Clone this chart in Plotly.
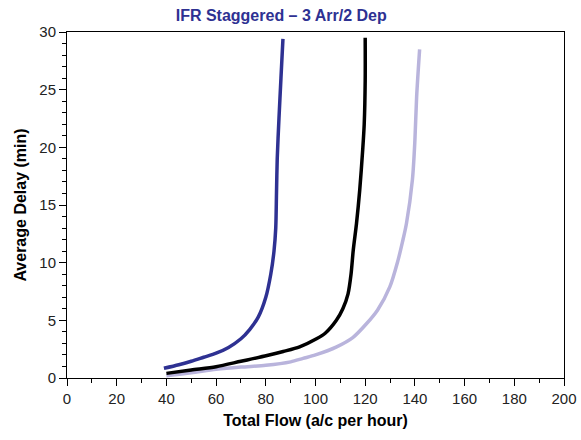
import plotly.graph_objects as go

# Data
blue_x = [39, 45, 50, 55, 60, 65, 70, 73.5, 77, 80, 82, 83.3, 84.0, 84.3, 84.6, 85.3, 86.1, 86.9]
blue_y = [0.84, 1.15, 1.45, 1.8, 2.15, 2.65, 3.4, 4.2, 5.3, 7.0, 9.0, 11.0, 13.0, 16.0, 19.0, 22.5, 26.0, 29.4]

black_x = [40, 50, 60, 70, 80.5, 87, 93.6, 100.4, 104, 108.4, 111, 113.1, 114.3, 115.2, 116.5, 117.8, 119.0, 119.6, 120.0, 120.0]
black_y = [0.4, 0.7, 0.98, 1.45, 1.95, 2.3, 2.7, 3.4, 3.9, 5.0, 6.0, 7.3, 9.0, 11.1, 13.4, 16.3, 19.8, 22.0, 25.8, 29.5]

lav_x = [40, 50, 60, 70, 80, 90, 95, 100, 108.5, 115, 120.5, 125, 129.9, 133.2, 135, 136.6, 139.0, 140.0, 140.7, 141.9]
lav_y = [0.2, 0.45, 0.75, 0.95, 1.1, 1.4, 1.7, 2.0, 2.7, 3.5, 4.7, 5.9, 7.9, 10.2, 11.8, 13.4, 17.2, 20.6, 24.4, 28.5]

x_ticks = [0, 20, 40, 60, 80, 100, 120, 140, 160, 180, 200]
y_ticks = [0, 5, 10, 15, 20, 25, 30]

BLUE = "#2e3192"
LAV = "#b9b4dc"
FONT = "Liberation Sans, Arial, sans-serif"

fig = go.Figure()
for xs, ys, c in [(lav_x, lav_y, LAV), (black_x, black_y, "#000000"), (blue_x, blue_y, BLUE)]:
    fig.add_trace(go.Scatter(x=xs, y=ys, mode="lines",
                             line=dict(color=c, width=3.5, shape="spline", smoothing=0.8),
                             showlegend=False, hoverinfo="skip"))

axis_common = dict(showgrid=False, zeroline=False, showline=True, linecolor="black",
                   linewidth=1, mirror=True, ticks="outside", ticklen=7, tickwidth=1,
                   tickcolor="black", tickfont=dict(family=FONT, size=15, color="#222"),
                   automargin=False)

fig.update_xaxes(range=[0, 200], tickvals=x_ticks, ticktext=[str(v) for v in x_ticks],
                 minor=dict(dtick=10, ticks="outside", ticklen=4, tickcolor="black", tickwidth=1),
                 title=dict(text="<b>Total Flow (a/c per hour)</b>", font=dict(family=FONT, size=16, color="black"), standoff=8),
                 **axis_common)
fig.update_yaxes(range=[0, 30], tickvals=y_ticks, ticktext=[str(v) for v in y_ticks],
                 minor=dict(dtick=1, ticks="outside", ticklen=4, tickcolor="black", tickwidth=1),
                 title=dict(text="<b>Average Delay (min)</b>", font=dict(family=FONT, size=16, color="black"), standoff=8),
                 **axis_common)

fig.update_layout(
    width=581, height=440,
    margin=dict(l=67, r=17, t=32, b=62),
    paper_bgcolor="white", plot_bgcolor="white",
    title=dict(text="<b>IFR Staggered – 3 Arr/2 Dep</b>", font=dict(family=FONT, size=16, color=BLUE),
               x=0.484, xref="container", xanchor="center", y=1 - 15/440, yref="container", yanchor="middle"),
)

fig.write_html("out.html")
